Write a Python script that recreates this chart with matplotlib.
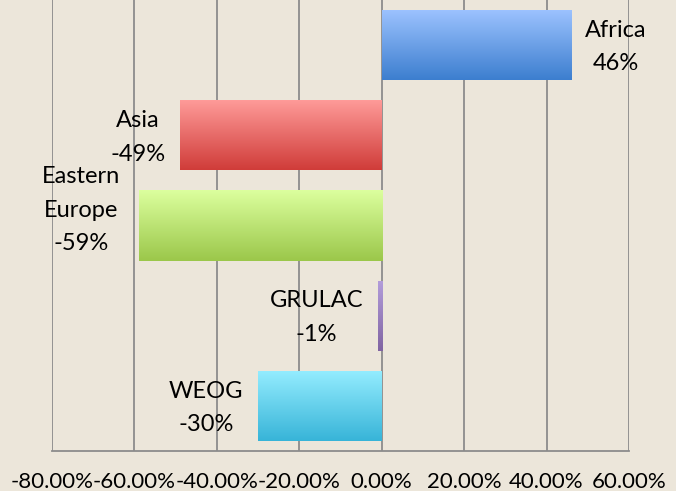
import matplotlib
matplotlib.use("Agg")
import matplotlib.pyplot as plt
import numpy as np
from matplotlib.colors import LinearSegmentedColormap
from matplotlib.ticker import FuncFormatter

categories = ["Africa", "Asia", "Eastern\nEurope", "GRULAC", "WEOG"]
values = [46, -49, -59, -1, -30]
top_colors = ["#9DC3FF", "#FF9C9A", "#DCFF9E", "#B39DDB", "#95EDFF"]
bottom_colors = ["#3C7ECF", "#D03C39", "#9BC74A", "#8064A2", "#37B4D8"]
xticks = [-80, -60, -40, -20, 0, 20, 40, 60]

bg = "#ECE6DA"
plt.rcParams['font.family'] = ['Lato', 'DejaVu Sans']
FS = 16
LFS = 17

fig = plt.figure(figsize=(6.76, 4.91), dpi=100, facecolor=bg)
ax = fig.add_axes([52/676, 40/491, (629-52)/676, 451/491])
ax.set_facecolor(bg)

y = np.arange(len(categories))
bars = ax.barh(y, values, height=0.78, color="none", edgecolor="none", zorder=3)

grad = np.linspace(0, 1, 256).reshape(-1, 1)
for bar, tc, bc in zip(bars, top_colors, bottom_colors):
    x0 = bar.get_x(); w = bar.get_width()
    y0 = bar.get_y(); h = bar.get_height()
    cmap = LinearSegmentedColormap.from_list("g", [tc, bc])
    im = ax.imshow(grad, cmap=cmap, aspect="auto",
                   extent=[x0, x0 + w, y0 + h, y0], origin="upper", zorder=3)
    im.set_clip_path(bar)

for yi, v, cat in zip(y, values, categories):
    label = f"{cat}\n{v}%"
    nlines = label.count("\n") + 1
    dy = -1.5 if nlines <= 2 else 11
    if v >= 0:
        ax.annotate(label, (v, yi), xytext=(10, dy), textcoords="offset points",
                    ha="left", va="center", multialignment="center",
                    linespacing=1.74, fontsize=LFS, color="#000000", zorder=4)
    else:
        dx = -10.5 if nlines <= 2 else -13.5
        ax.annotate(label, (v, yi), xytext=(dx, dy), textcoords="offset points",
                    ha="right", va="center", multialignment="center",
                    linespacing=1.74, fontsize=LFS, color="#000000", zorder=4)

ax.set_xlim(-80, 60)
ax.set_ylim(len(categories) - 0.5, -0.5)
ax.set_xticks(xticks)
ax.xaxis.set_major_formatter(FuncFormatter(lambda v, p: f"{v:.2f}%"))
ax.set_yticks([])
ax.grid(axis="x", color="#8C8C8C", linewidth=1.3, zorder=0)
ax.set_axisbelow(True)
for s in ["top", "right", "left"]:
    ax.spines[s].set_visible(False)
ax.spines["bottom"].set_color("#8C8C8C")
ax.spines["bottom"].set_linewidth(1.3)
ax.tick_params(axis="x", length=0, pad=15, labelsize=FS)

fig.savefig("out.png", dpi=100, facecolor=bg)
